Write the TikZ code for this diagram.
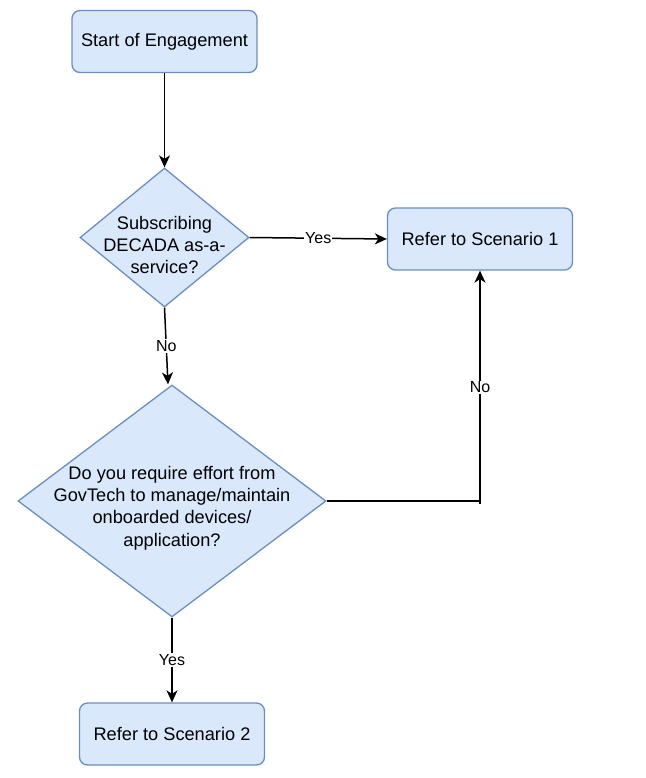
\documentclass[tikz,border=0pt]{standalone}
\usepackage{fontspec}
\setmainfont{Liberation Sans}
\usetikzlibrary{shapes.geometric}
\usetikzlibrary{arrows.meta}
\definecolor{boxfill}{HTML}{DAE8FC}
\definecolor{boxline}{HTML}{6C8EBF}
\tikzset{
    stepbox/.style={draw=boxline, fill=boxfill, line width=1.3pt, rounded corners=8pt,
        minimum width=185pt, minimum height=62pt, font=\fontsize{18.2}{22.5}\selectfont},
    decision/.style={draw=boxline, fill=boxfill, line width=1.3pt, diamond, inner sep=0pt},
    qtext/.style={align=center, inner sep=0pt, font=\fontsize{18.2}{22.3}\selectfont},
    flow/.style={line width=1.5pt, -{Stealth[length=12pt,width=11pt,inset=3.5pt]}},
    edgelabel/.style={fill=white, inner sep=1pt, font=\fontsize{16}{18}\selectfont}
}

\begin{document}
\begin{tikzpicture}[x=1pt,y=-1pt]
    \useasboundingbox (0,0) rectangle (645,778);
    % boxes
    \node[stepbox] (start) at (164.5,41.5) {Start of Engagement};
    \node[stepbox] (sc1) at (480,239) {Refer to Scenario 1};
    \node[stepbox] (sc2) at (172,734) {Refer to Scenario 2};
    % questions
    \node[decision, minimum width=169pt, minimum height=139pt] (q1) at (164.5,237.5) {};
    \node[qtext] (q1text) at (164.5,245) {Subscribing\\DECADA as-a-\\service?};
    \node[decision, minimum width=308pt, minimum height=232pt] (q2) at (172,501) {};
    \node[qtext] (q2text) at (172,508) {Do you require effort from\\GovTech to manage/maintain\\onboarded devices/\\application?};
    % connectors
    \draw[flow] (start) -- (q1);
    \draw[flow] (q1.east) -- node[edgelabel]{Yes} (sc1.west);
    \draw[flow] (q1.south) -- node[edgelabel]{No} ([xshift=-4pt]q2.north);
    \draw[line width=1.5pt] (q2.east) -- (q2.east -| sc1.south);
    \draw[flow] ([yshift=-3pt]q2.east -| sc1.south) -- node[edgelabel]{No} (sc1.south);
    \draw[flow] (q2.south) -- node[edgelabel]{Yes} (sc2.north);
\end{tikzpicture}
\end{document}
